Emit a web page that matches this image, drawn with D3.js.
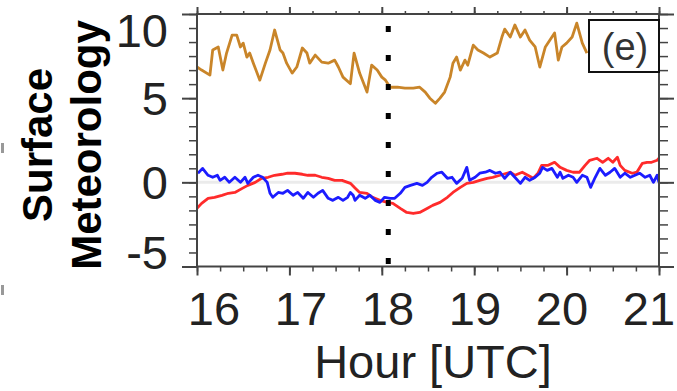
<!DOCTYPE html>
<html>
<head>
<meta charset="utf-8">
<script src="https://cdn.jsdelivr.net/npm/d3@7"></script>
<style>
  html, body { margin: 0; padding: 0; background: #fff; }
  svg { display: block; }
</style>
</head>
<body>
<svg id="chart" width="677" height="391"></svg>
<script>
// ---- data: time in decimal hours (UTC), values in plotted units ----
const orangeTime = [16.00,16.05,16.14,16.17,16.23,16.28,16.32,16.38,16.43,16.47,16.50,16.54,16.57,16.61,16.68,16.74,16.79,16.84,16.90,16.93,16.97,17.03,17.08,17.14,17.19,17.22,17.28,17.35,17.42,17.49,17.53,17.58,17.66,17.70,17.76,17.84,17.89,17.95,18.00,18.04,18.09,18.17,18.25,18.34,18.41,18.47,18.52,18.58,18.63,18.68,18.74,18.77,18.81,18.85,18.90,18.93,18.99,19.04,19.10,19.17,19.25,19.30,19.33,19.39,19.44,19.50,19.55,19.60,19.66,19.71,19.77,19.82,19.87,19.91,19.95,20.00,20.06,20.11,20.17,20.22];
const orangeVal  = [6.85,6.67,6.37,7.86,8.04,6.67,7.68,8.75,8.75,8.04,8.27,7.44,7.68,7.08,6.07,7.08,7.86,9.05,7.86,7.68,7.08,6.49,6.85,7.98,7.68,7.08,7.56,7.14,7.08,7.26,6.85,6.25,5.86,7.68,6.49,5.36,6.96,6.67,6.25,6.07,5.65,5.65,5.60,5.60,5.65,5.36,5.00,4.70,5.00,5.36,6.25,7.08,7.44,6.67,7.26,6.96,8.15,7.86,7.68,7.44,7.68,8.63,9.10,8.63,9.35,8.63,9.05,8.45,8.04,6.85,8.04,8.45,8.87,7.26,8.04,8.27,8.63,9.46,8.27,7.68];

const blueTime = [16.01,16.06,16.12,16.17,16.22,16.25,16.30,16.35,16.41,16.47,16.52,16.55,16.61,16.66,16.71,16.76,16.79,16.82,16.88,16.93,16.98,17.04,17.09,17.15,17.20,17.26,17.31,17.36,17.42,17.47,17.53,17.58,17.63,17.66,17.69,17.71,17.76,17.82,17.87,17.93,17.98,18.03,18.09,18.14,18.20,18.25,18.31,18.38,18.44,18.49,18.54,18.60,18.65,18.71,18.76,18.81,18.87,18.92,18.95,19.01,19.06,19.12,19.17,19.23,19.28,19.33,19.39,19.44,19.50,19.55,19.60,19.66,19.71,19.74,19.79,19.84,19.90,19.93,19.96,20.02,20.07,20.11,20.17,20.22,20.26,20.31,20.36,20.42,20.47,20.52,20.58,20.63,20.69,20.74,20.79,20.85,20.90,20.94,20.98,21.00];
const blueVal  = [0.54,0.83,0.42,0.30,0.42,0.12,0.30,0.00,0.30,0.00,0.30,-0.06,0.30,0.42,0.30,0.00,-0.65,-0.89,-0.60,-0.65,-0.48,-0.77,-0.60,-0.95,-0.60,-0.89,-0.65,-0.48,-0.95,-1.07,-0.89,-1.07,-0.89,-0.60,-0.77,-1.07,-0.77,-0.95,-0.77,-1.07,-1.19,-0.89,-0.95,-0.95,-0.65,-0.30,-0.18,-0.06,-0.18,0.00,0.30,0.54,0.60,0.24,0.30,-0.06,0.24,0.89,0.12,0.30,0.54,0.60,0.71,0.54,0.60,0.24,0.60,0.30,-0.06,0.30,0.12,0.30,0.54,0.89,0.71,0.83,0.30,0.60,0.24,0.42,0.30,0.00,0.42,0.30,-0.30,0.30,0.83,0.42,0.60,0.83,0.30,0.54,0.30,0.42,0.54,0.30,0.42,0.00,0.42,0.00];

const redTime = [16.00,16.05,16.12,16.19,16.27,16.34,16.41,16.49,16.55,16.63,16.70,16.77,16.84,16.92,16.98,17.06,17.14,17.20,17.28,17.35,17.42,17.49,17.57,17.63,17.66,17.71,17.76,17.84,17.90,17.98,18.06,18.12,18.20,18.27,18.34,18.41,18.49,18.55,18.63,18.71,18.77,18.85,18.92,18.99,19.06,19.14,19.20,19.28,19.35,19.39,19.44,19.52,19.58,19.64,19.69,19.73,19.80,19.87,19.93,20.00,20.07,20.14,20.20,20.25,20.33,20.39,20.45,20.50,20.55,20.58,20.63,20.71,20.76,20.82,20.87,20.92,20.98,21.00];
const redVal  = [-1.55,-1.25,-0.95,-0.89,-0.77,-0.65,-0.60,-0.36,-0.18,0.00,0.24,0.30,0.42,0.48,0.54,0.54,0.48,0.42,0.42,0.30,0.24,0.12,0.12,0.00,-0.06,-0.33,-0.60,-0.65,-0.89,-1.07,-1.19,-1.25,-1.55,-1.79,-1.85,-1.79,-1.55,-1.37,-1.19,-0.89,-0.60,-0.30,-0.06,0.00,0.12,0.24,0.30,0.42,0.54,0.60,0.42,0.60,0.42,0.24,0.54,1.01,1.01,1.19,0.89,0.71,0.60,0.60,1.01,1.31,1.43,1.19,1.43,1.19,1.49,1.01,0.71,0.54,0.60,1.13,1.19,1.19,1.31,1.43];

// marked event time (dotted vertical line)
const eventHour = [18.07];

// axis ticks and labels
const xMajor = [16, 17, 18, 19, 20, 21];
const xTickLabels = ["16", "17", "18", "19", "20", "21"];
const yMajor = [-5, 0, 5, 10];
const yTickLabels = ["-5", "0", "5", "10"];
const panelTag = "(e)";
const xTitle = "Hour [UTC]";
const yTitle = ["Surface", "Meteorology"];

// ---- layout ----
const svg = d3.select("#chart");
const L = 197, R = 659, T = 14, B = 266.5;
const axisCol = "#444";

const x = d3.scaleLinear().domain([16, 21]).range([L, R]);
const y = d3.scaleLinear().domain([-5, 10]).range([B, T]);
// tick labels sit on a slightly narrower band than the frame
const xLab = d3.scaleLinear().domain([16, 21]).range([214, 649]);

const xMinor = d3.range(0, 21).map(i => 16 + i * 0.25);
const yMinor = d3.range(0, 19).map(i => -5 + i * 5 / 6);

svg.append("defs").append("clipPath").attr("id", "plotClip")
  .append("rect").attr("x", L).attr("y", T).attr("width", R - L).attr("height", B - T);

// zero reference line
svg.append("line")
  .attr("x1", L).attr("x2", R).attr("y1", y(0)).attr("y2", y(0))
  .attr("stroke", "#ebebeb").attr("stroke-width", 3);

const plot = svg.append("g").attr("clip-path", "url(#plotClip)");
const line = d3.line().x(d => x(d[0])).y(d => y(d[1]));

const series = [
  { t: redTime, v: redVal, color: "#ff2b2b" },
  { t: blueTime, v: blueVal, color: "#1c1cff" },
  { t: orangeTime, v: orangeVal, color: "#c98529" }
];
series.forEach(s => {
  plot.append("path")
    .datum(s.t.map((t, i) => [t, s.v[i]]))
    .attr("fill", "none")
    .attr("stroke", s.color)
    .attr("stroke-width", 2.8)
    .attr("stroke-linejoin", "round")
    .attr("d", line);
});

// event marker
svg.selectAll("line.event").data(eventHour).join("line")
  .attr("class", "event")
  .attr("x1", d => x(d)).attr("x2", d => x(d))
  .attr("y1", T).attr("y2", B)
  .attr("stroke", "#000").attr("stroke-width", 5)
  .attr("stroke-dasharray", "6 23").attr("stroke-dashoffset", 17);

// axes (ticks only; the frame is drawn as a rectangle)
function styleAxis(g, w) {
  g.select(".domain").remove();
  g.selectAll(".tick line").attr("stroke", axisCol).attr("stroke-width", w);
}
svg.append("g").attr("transform", `translate(0,${B})`)
  .call(d3.axisBottom(x).tickValues(xMinor).tickSize(5).tickFormat(""))
  .call(g => styleAxis(g, 1.5));
svg.append("g").attr("transform", `translate(0,${B})`)
  .call(d3.axisBottom(x).tickValues(xMajor).tickSize(9).tickFormat(""))
  .call(g => styleAxis(g, 2));
svg.append("g").attr("transform", `translate(0,${T})`)
  .call(d3.axisTop(x).tickValues(xMinor).tickSize(3).tickFormat(""))
  .call(g => styleAxis(g, 1.5));
svg.append("g").attr("transform", `translate(0,${T})`)
  .call(d3.axisTop(x).tickValues(xMajor).tickSize(7).tickFormat(""))
  .call(g => styleAxis(g, 2));
svg.append("g").attr("transform", `translate(${L},0)`)
  .call(d3.axisLeft(y).tickValues(yMinor).tickSize(8).tickFormat(""))
  .call(g => styleAxis(g, 1.5));
svg.append("g").attr("transform", `translate(${L},0)`)
  .call(d3.axisLeft(y).tickValues(yMajor).tickSize(15).tickFormat(""))
  .call(g => styleAxis(g, 2));
svg.append("g").attr("transform", `translate(${R},0)`)
  .call(d3.axisRight(y).tickValues(yMinor).tickSize(9).tickFormat(""))
  .call(g => styleAxis(g, 1.5));
svg.append("g").attr("transform", `translate(${R},0)`)
  .call(d3.axisRight(y).tickValues(yMajor).tickSize(15).tickFormat(""))
  .call(g => styleAxis(g, 2));

svg.append("rect")
  .attr("x", L).attr("y", T).attr("width", R - L).attr("height", B - T)
  .attr("fill", "none").attr("stroke", axisCol).attr("stroke-width", 2);

// tick labels
const labelFont = "'Liberation Sans', Arial, Helvetica, sans-serif";
svg.selectAll("text.xlab").data(xMajor).join("text")
  .attr("class", "xlab")
  .attr("x", d => xLab(d)).attr("y", 325)
  .attr("text-anchor", "middle")
  .attr("font-family", labelFont).attr("font-size", 47).attr("fill", "#222")
  .text((d, i) => xTickLabels[i]);

svg.selectAll("text.ylab").data(yMajor).join("text")
  .attr("class", "ylab")
  .attr("x", 168)
  .attr("y", d => Math.max(30, Math.min(252, y(d))))
  .attr("dy", "0.36em")
  .attr("text-anchor", "end")
  .attr("font-family", labelFont).attr("font-size", 47).attr("fill", "#222")
  .text((d, i) => yTickLabels[i]);

// axis titles
svg.append("text")
  .attr("x", 433).attr("y", 378)
  .attr("text-anchor", "middle")
  .attr("font-family", labelFont).attr("font-size", 47).attr("fill", "#222")
  .text(xTitle);

const yT = svg.append("text")
  .attr("transform", "translate(52,145) rotate(-90)")
  .attr("text-anchor", "middle")
  .attr("font-family", labelFont).attr("font-weight", "bold")
  .attr("font-size", 42).attr("fill", "#000");
yT.selectAll("tspan").data(yTitle).join("tspan")
  .attr("x", 0).attr("dy", (d, i) => i === 0 ? 0 : 49)
  .text(d => d);

// panel tag
svg.append("rect")
  .attr("x", 589).attr("y", 20).attr("width", R - 589).attr("height", 52)
  .attr("fill", "#fff").attr("stroke", "#111").attr("stroke-width", 2);
svg.append("text")
  .attr("x", 625).attr("y", 46).attr("dy", "0.36em")
  .attr("text-anchor", "middle")
  .attr("font-family", labelFont).attr("font-size", 38).attr("fill", "#333")
  .text(panelTag);

// small marks at the left margin
svg.selectAll("rect.edge").data([148, 290]).join("rect")
  .attr("class", "edge")
  .attr("x", 1).attr("y", d => d - 5).attr("width", 3).attr("height", 10)
  .attr("fill", "#999");
</script>
</body>
</html>
